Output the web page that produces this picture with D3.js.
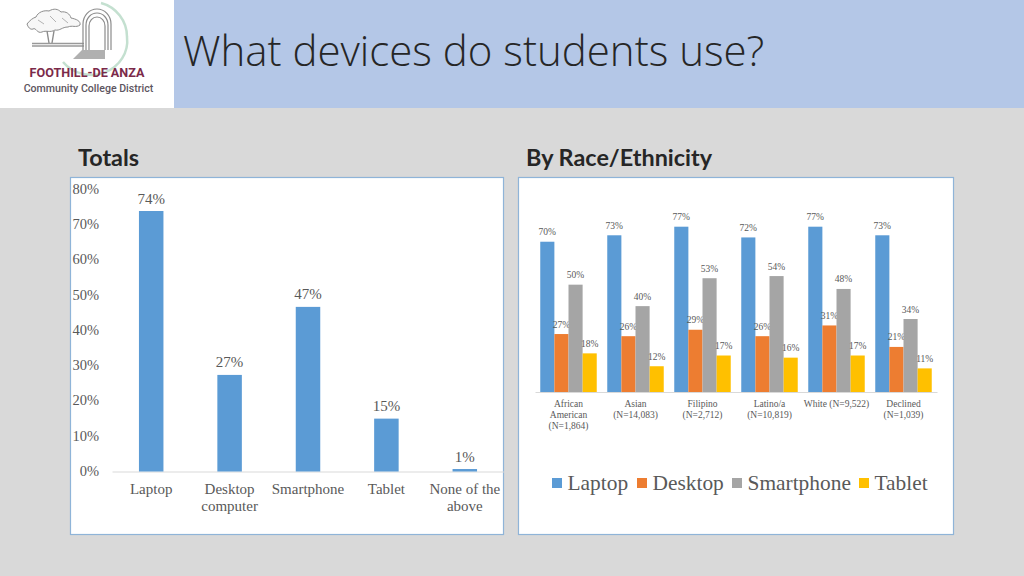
<!DOCTYPE html>
<html>
<head>
<meta charset="utf-8">
<script src="https://cdnjs.cloudflare.com/ajax/libs/d3/7.8.5/d3.min.js"></script>
<style>
  html, body { margin: 0; padding: 0; background: #d9d9d9; }
  svg { display: block; }
  text { font-family: "Liberation Serif", serif; fill: #595959; }
  .domain { stroke: #d9d9d9; }
</style>
</head>
<body>
<script>
var totalCats = ["Laptop", "Desktop|computer", "Smartphone", "Tablet", "None of the|above"];
var totalVals = [73.9, 27.4, 46.7, 15, 0.7];
var totalTicks = [0, 10, 20, 30, 40, 50, 60, 70, 80];

var raceCats = ["African|American|(N=1,864)", "Asian|(N=14,083)", "Filipino|(N=2,712)", "Latino/a|(N=10,819)", "White (N=9,522)", "Declined|(N=1,039)"];
var seriesNames = ["Laptop", "Desktop", "Smartphone", "Tablet"];
var laptopVals = [70, 73, 77, 72, 77, 73];
var desktopVals = [27, 26, 29, 26, 31, 21];
var smartphoneVals = [50, 40, 53, 54, 48, 34];
var tabletVals = [18, 12, 17, 16, 17, 11];
var seriesVals = [laptopVals, desktopVals, smartphoneVals, tabletVals];
var seriesColors = ["#5b9bd5", "#ed7d31", "#a5a5a5", "#ffc000"];

var svg = d3.select("body").append("svg")
  .attr("width", 1024)
  .attr("height", 576);

// slide background and header
svg.append("rect").attr("width", 1024).attr("height", 576).attr("fill", "#d9d9d9");
svg.append("rect").attr("width", 1024).attr("height", 108).attr("fill", "#b4c7e7");
svg.append("rect").attr("width", 174).attr("height", 108).attr("fill", "#fff");

svg.append("text")
  .attr("x", 183).attr("y", 66)
  .style("font-family", "'Open Sans', sans-serif")
  .style("font-weight", 300)
  .style("font-size", "42px")
  .style("fill", "#262626")
  .text("What devices do students use?");

// logo, hand sketched
var logo = svg.append("g").attr("fill", "none");
logo.append("path")
  .attr("d", "M101,3 A35,35 0 0 1 127,37 A36,34 0 0 1 63,62")
  .attr("stroke", "#c4e0d0").attr("stroke-width", 2.5);
logo.append("path")
  .attr("d", "M27,24 C30,20 33,18 36,17 C38,12 44,10 49,11 C54,8 58,9 61,12 C66,11 70,14 71,18 C76,19 81,21 80,25 C76,28 72,25 68,27 C62,27 60,31 55,30 C50,33 46,30 42,32 C37,34 36,27 33,29 C30,30 28,27 27,24 Z")
  .attr("stroke", "#8c8c8c").attr("stroke-width", 1).attr("fill", "#f7f7f7");
logo.append("path")
  .attr("d", "M38,20 L44,24 M50,16 L56,22 M62,18 L68,23")
  .attr("stroke", "#a0a0a0").attr("stroke-width", 0.8);
logo.append("path")
  .attr("d", "M47,31 L49,43 M54,31 L52,43")
  .attr("stroke", "#8c8c8c").attr("stroke-width", 1.4);
logo.append("path")
  .attr("d", "M32,43.5 H84 M32,46 H84")
  .attr("stroke", "#999").attr("stroke-width", 1.5);
[0, 1, 2].forEach(function(i) {
  var w = 14 - i * 3;
  logo.append("path")
    .attr("d", "M" + (97 - w) + ",50 V" + (24 + i) + " A" + w + "," + (w + 1) + " 0 0 1 " + (97 + w) + "," + (24 + i) + " V50")
    .attr("stroke", "#8c8c8c").attr("stroke-width", 1.2);
});
logo.append("path")
  .attr("d", "M73,59 H105 V50 H82 Z")
  .attr("fill", "#b0b0b0");

svg.append("text")
  .attr("x", 87).attr("y", 77)
  .attr("text-anchor", "middle")
  .style("font-family", "Roboto, sans-serif")
  .style("font-weight", 700)
  .style("font-size", "12.6px")
  .style("fill", "#7b2a4a")
  .text("FOOTHILL-DE ANZA");
svg.append("text")
  .attr("x", 88.5).attr("y", 92)
  .attr("text-anchor", "middle")
  .style("font-family", "Roboto, sans-serif")
  .style("font-weight", 500)
  .style("font-size", "10.6px")
  .style("fill", "#5d5560")
  .text("Community College District");

// section headings
svg.append("text").attr("x", 78).attr("y", 166)
  .style("font-family", "Lato, sans-serif").style("font-weight", 700)
  .style("font-size", "23.4px").style("fill", "#262626").text("Totals");
svg.append("text").attr("x", 526).attr("y", 166)
  .style("font-family", "Lato, sans-serif").style("font-weight", 700)
  .style("font-size", "23.4px").style("fill", "#262626").text("By Race/Ethnicity");

// chart panels
svg.append("rect").attr("x", 70.5).attr("y", 177.5).attr("width", 433).attr("height", 357)
  .attr("fill", "#fff").attr("stroke", "#8fb4d8").attr("stroke-width", 1.2);
svg.append("rect").attr("x", 518.5).attr("y", 177.5).attr("width", 435).attr("height", 357)
  .attr("fill", "#fff").attr("stroke", "#8fb4d8").attr("stroke-width", 1.2);

function wrapTicks(sel, lineHeight) {
  sel.selectAll(".tick text").each(function(d) {
    var t = d3.select(this), parts = d.split("|"), y = t.attr("y");
    t.text(null);
    parts.forEach(function(p, i) {
      t.append("tspan").attr("x", 0).attr("y", +y + i * lineHeight).text(p);
    });
  });
}

// Totals chart
var x = d3.scaleBand().domain(totalCats).range([112, 504]).paddingInner(0.6875).paddingOuter(0.34375);
var y = d3.scaleLinear().domain([0, 80]).range([471.5, 189.5]);

var xAxisL = svg.append("g")
  .attr("transform", "translate(0,471.5)")
  .call(d3.axisBottom(x).tickSize(0));
xAxisL.selectAll("text").attr("dy", 0).attr("y", 22.5).style("font-size", "15px");
wrapTicks(xAxisL, 17.3);

var yAxisL = svg.append("g")
  .attr("transform", "translate(99,0)")
  .call(d3.axisLeft(y).tickValues(totalTicks).tickSize(0).tickPadding(0).tickFormat(function(d) { return d + "%"; }));
yAxisL.select(".domain").remove();
yAxisL.selectAll("text").attr("y", -0.7).style("font-size", "14.5px");

svg.selectAll(".bar-total")
  .data(totalVals)
  .enter().append("rect")
  .attr("class", "bar-total")
  .attr("x", function(d, i) { return x(totalCats[i]); })
  .attr("y", function(d) { return y(d); })
  .attr("width", x.bandwidth())
  .attr("height", function(d) { return y(0) - y(d); })
  .attr("fill", "#5b9bd5");

svg.selectAll(".lab-total")
  .data(totalVals)
  .enter().append("text")
  .attr("class", "lab-total")
  .attr("x", function(d, i) { return x(totalCats[i]) + x.bandwidth() / 2; })
  .attr("y", function(d) { return y(d) - 7.5; })
  .attr("text-anchor", "middle")
  .style("font-size", "15px")
  .text(function(d) { return Math.round(d) + "%"; });

// By race chart
var x0 = d3.scaleBand().domain(raceCats).range([535, 937]).paddingInner(0.157).paddingOuter(0.0785);
var x1 = d3.scaleBand().domain(seriesNames).range([0, x0.bandwidth()]);
var y2 = d3.scaleLinear().domain([0, 77]).range([392, 226.7]);

var xAxisR = svg.append("g")
  .attr("transform", "translate(0,392)")
  .call(d3.axisBottom(x0).tickSize(0));
xAxisR.selectAll("text").attr("dy", 0).attr("y", 15).style("font-size", "9.5px");
wrapTicks(xAxisR, 11);

var groups = svg.selectAll(".series")
  .data(seriesVals)
  .enter().append("g")
  .attr("class", "series");

groups.each(function(vals, s) {
  d3.select(this).selectAll("rect")
    .data(vals)
    .enter().append("rect")
    .attr("x", function(d, i) { return x0(raceCats[i]) + x1(seriesNames[s]); })
    .attr("y", function(d) { return y2(d); })
    .attr("width", x1.bandwidth())
    .attr("height", function(d) { return y2(0) - y2(d); })
    .attr("fill", seriesColors[s]);
});

// labels on top so they overlap the neighbouring bars
groups.each(function(vals, s) {
  d3.select(this).selectAll("text")
    .data(vals)
    .enter().append("text")
    .attr("x", function(d, i) { return x0(raceCats[i]) + x1(seriesNames[s]) + x1.bandwidth() / 2; })
    .attr("y", function(d) { return y2(d) - 6.5; })
    .attr("text-anchor", "middle")
    .style("font-size", "9.5px")
    .text(function(d) { return d + "%"; });
});

// legend
var legendX = [552, 637, 732, 859];
var legend = svg.selectAll(".legend")
  .data(seriesNames)
  .enter().append("g")
  .attr("class", "legend")
  .attr("transform", function(d, i) { return "translate(" + legendX[i] + ",478)"; });
legend.append("rect")
  .attr("width", 10).attr("height", 10)
  .attr("fill", function(d, i) { return seriesColors[i]; });
legend.append("text")
  .attr("x", 15.5).attr("y", 11.5)
  .style("font-size", "21.4px")
  .text(function(d) { return d; });
</script>
</body>
</html>
